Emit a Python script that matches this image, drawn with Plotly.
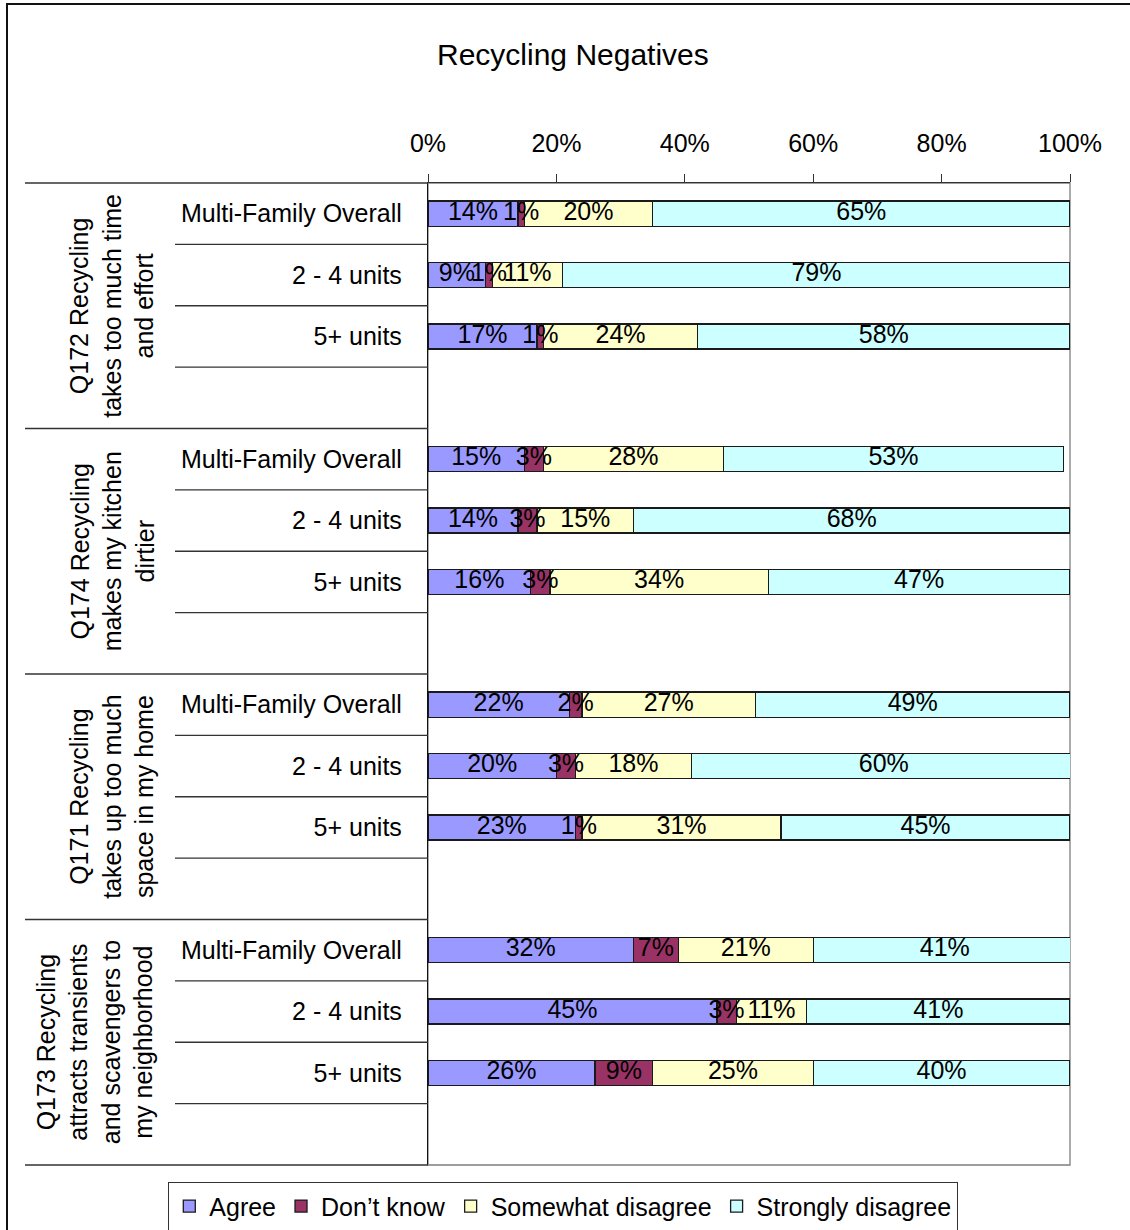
import plotly.graph_objects as go

# Survey questions (each drawn as a rotated, multi-line group label)
questions = [
    ["Q172 Recycling", "takes too much time", "and effort"],
    ["Q174 Recycling", "makes my kitchen", "dirtier"],
    ["Q171 Recycling", "takes up too much", "space in my home"],
    ["Q173 Recycling", "attracts transients", "and scavengers to", "my neighborhood"],
]
segments = ["Multi-Family Overall", "2 - 4 units", "5+ units"]

series_names = ["Agree", "Don\u2019t know", "Somewhat disagree", "Strongly disagree"]
series_colors = ["#9999FF", "#993366", "#FFFFCC", "#CCFFFF"]

# Percent of respondents, ordered question by question, segment by segment
agree = [14, 9, 17, 15, 14, 16, 22, 20, 23, 32, 45, 26]
dont_know = [1, 1, 1, 3, 3, 3, 2, 3, 1, 7, 3, 9]
somewhat_disagree = [20, 11, 24, 28, 15, 34, 27, 18, 31, 21, 11, 25]
strongly_disagree = [65, 79, 58, 53, 68, 47, 49, 60, 45, 41, 41, 40]
series_values = [agree, dont_know, somewhat_disagree, strongly_disagree]

x_ticks = [0, 20, 40, 60, 80, 100]

# ---- category layout: three segment rows plus one blank row per question ----
keys, row_keys, row_labels = [], [], []
for qi in range(len(questions)):
    for seg in segments:
        k = f"{qi}|{seg}"
        keys.append(k)
        row_keys.append(k)
        row_labels.append(seg)
    keys.append(f"{qi}|")
n_rows = len(keys)

W, H = 1130, 1230
L, R, T, B = 428, 60, 183, 65
PW, PH = W - L - R, H - T - B


def px_x(p):
    return (p - L) / PW


def px_y(p):
    return 1 - (p - T) / PH


FONT = "Liberation Sans, Arial, sans-serif"
fig = go.Figure()

for name, color, vals in zip(series_names, series_colors, series_values):
    fig.add_trace(go.Bar(
        name=name, y=row_keys, x=vals, orientation="h",
        marker=dict(color=color, line=dict(color="#1a1a1a", width=1.3)),
        width=0.41, hoverinfo="skip",
    ))

# Value labels centred on each segment, drawn above all bars
label_x, label_y, label_t = [], [], []
for i, k in enumerate(row_keys):
    start = 0
    for vals in series_values:
        v = vals[i]
        label_x.append(start + v / 2)
        label_y.append(k)
        label_t.append(f"{v}%")
        start += v
fig.add_trace(go.Scatter(
    x=label_x, y=label_y, text=label_t, mode="text",
    textfont=dict(family=FONT, size=25, color="black"),
    showlegend=False, hoverinfo="skip", cliponaxis=False,
))

shapes = []
# plot-area frame
shapes.append(dict(type="rect", xref="paper", yref="paper", x0=0, x1=1, y0=0, y1=1,
                   line=dict(color="#7f7f7f", width=1.3), layer="below"))
# row separators in the label column
for b in range(n_rows + 1):
    x0 = px_x(25) if b % 4 == 0 else px_x(175)
    yb = 1 - b / n_rows
    shapes.append(dict(type="line", xref="paper", yref="paper", x0=x0, x1=0, y0=yb, y1=yb,
                       line=dict(color="#333333", width=1.3)))
# outer chart border
shapes.append(dict(type="rect", xref="paper", yref="paper",
                   x0=px_x(7), x1=px_x(1200), y0=px_y(1300), y1=px_y(4),
                   line=dict(color="#111111", width=2)))

annotations = []
for qi, lines in enumerate(questions):
    yc = 1 - (4 * qi + 2) / n_rows
    xc = 112 if len(lines) == 3 else 95
    annotations.append(dict(
        text="<br>".join(lines), xref="paper", yref="paper",
        x=px_x(xc), y=yc, xanchor="center", yanchor="middle",
        textangle=-90, showarrow=False,
        font=dict(family=FONT, size=25, color="black"),
    ))
annotations.append(dict(
    text="Recycling Negatives", xref="paper", yref="paper",
    x=px_x(573), y=px_y(55), xanchor="center", yanchor="middle",
    showarrow=False, font=dict(family=FONT, size=30, color="black"),
))

fig.update_layout(
    width=W, height=H,
    margin=dict(l=L, r=R, t=T, b=B, pad=0, autoexpand=False),
    paper_bgcolor="white", plot_bgcolor="white",
    barmode="stack",
    font=dict(family=FONT, size=25, color="black"),
    showlegend=True,
    legend=dict(
        orientation="h", traceorder="normal",
        x=px_x(168), xanchor="left",
        y=px_y(1182), yanchor="top",
        bordercolor="#333333", borderwidth=1.3,
        font=dict(family=FONT, size=25, color="black"),
        itemclick=False, itemdoubleclick=False,
        tracegroupgap=0, itemwidth=30,
    ),
    xaxis=dict(
        side="top", range=[0, 100], tickvals=x_ticks,
        ticktext=[f"{t}%" for t in x_ticks],
        ticks="outside", ticklen=8, tickcolor="#333333", tickwidth=1.3,
        showline=True, linecolor="#333333", linewidth=1.3,
        showgrid=False, zeroline=False, ticklabelstandoff=12,
    ),
    yaxis=dict(
        type="category", categoryorder="array", categoryarray=keys,
        range=[n_rows - 0.5, -0.5],
        tickvals=row_keys, ticktext=row_labels, ticks="",
        showline=True, linecolor="#111111", linewidth=1.3,
        showgrid=False, zeroline=False, ticklabelstandoff=20,
    ),
    shapes=shapes, annotations=annotations,
)

fig.write_html("out.html")
